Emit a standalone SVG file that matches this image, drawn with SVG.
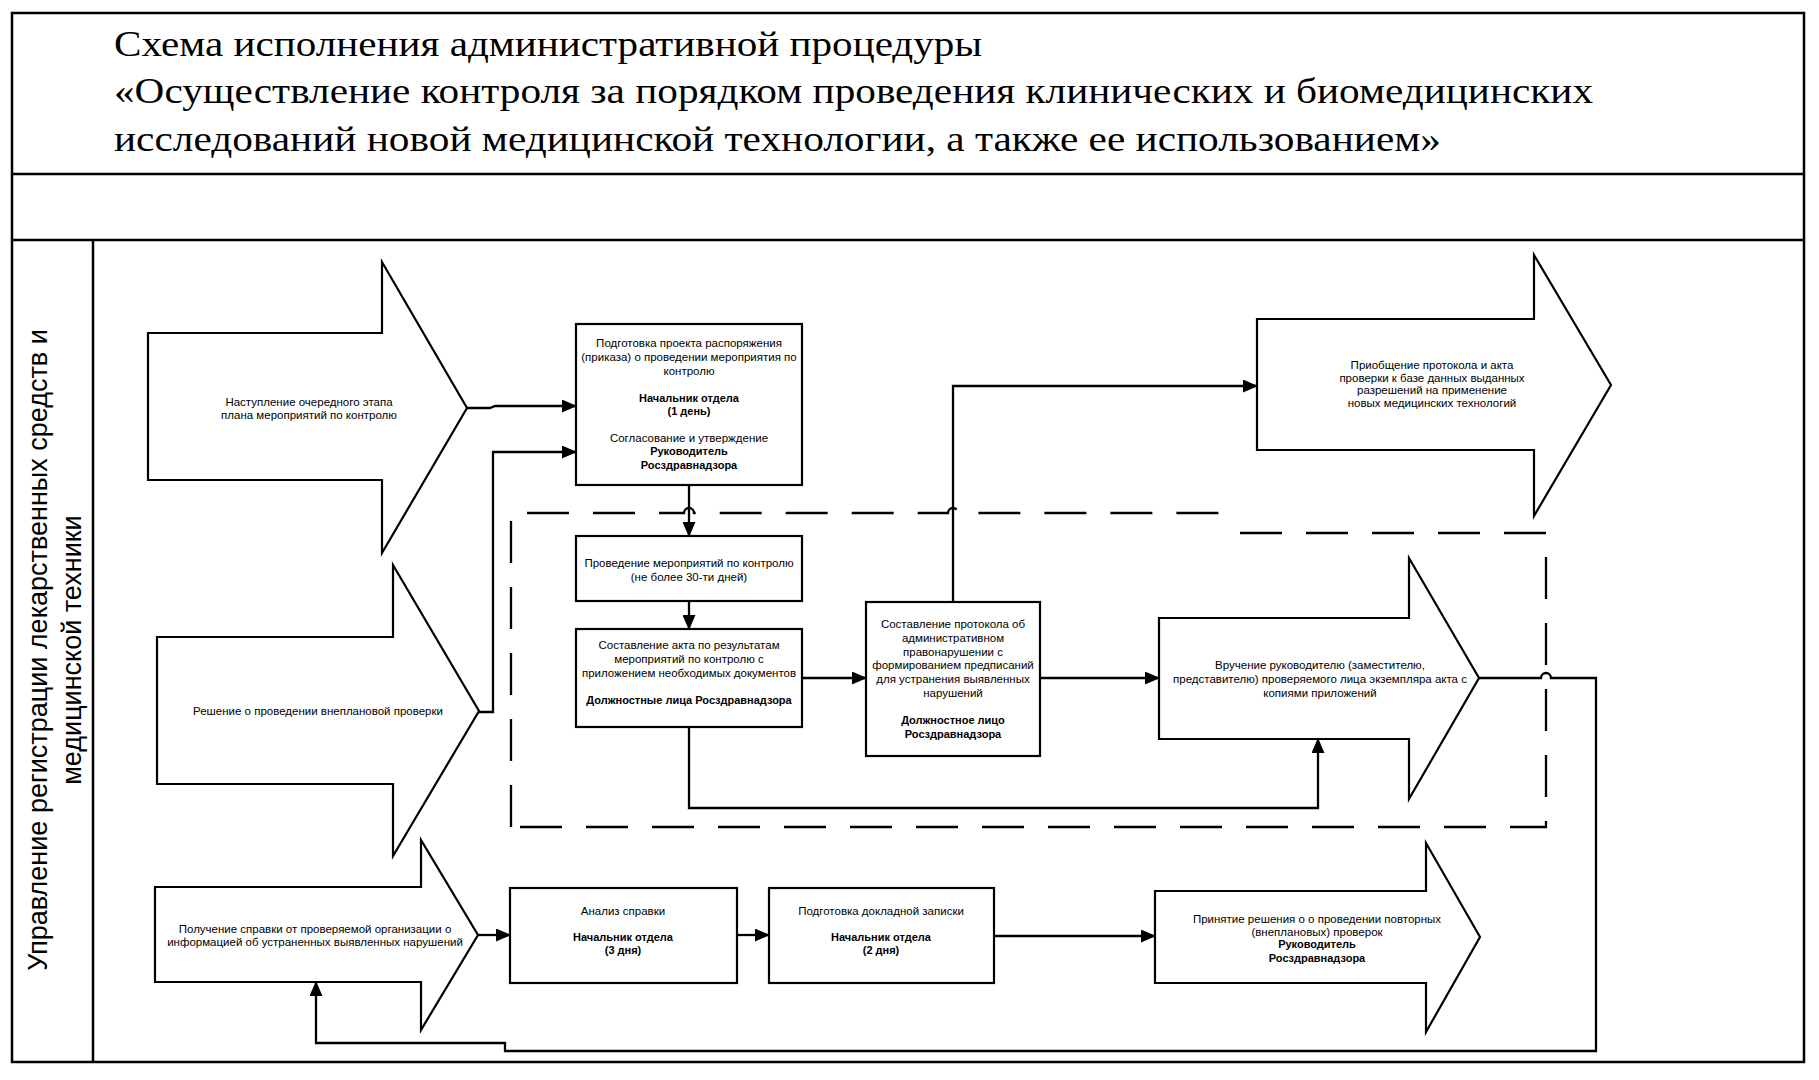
<svg xmlns="http://www.w3.org/2000/svg" width="1819" height="1080" viewBox="0 0 1819 1080">
<style>
.frame{fill:none;stroke:#000;stroke-width:2.5}
.node{fill:#fff;stroke:#000;stroke-width:2.2}
.conn{fill:none;stroke:#000;stroke-width:2.3}
.dash{fill:none;stroke:#000;stroke-width:2.3;stroke-dasharray:42 24}
.t{font-family:"Liberation Sans",Arial,sans-serif;font-size:11.5px;text-anchor:middle;fill:#000}
.b{font-weight:bold;font-size:11px}
.title{font-family:"Liberation Serif","Times New Roman",serif;font-size:36px;fill:#000}
.lane{font-family:"Liberation Sans",Arial,sans-serif;font-size:27px;text-anchor:middle;fill:#000}
</style>
<defs>
<marker id="ah" markerUnits="userSpaceOnUse" markerWidth="15" markerHeight="13" refX="14" refY="6.5" orient="auto">
<path d="M0,0 L15,6.5 L0,13 z" fill="#000"/>
</marker>
</defs>
<rect width="1819" height="1080" fill="#fff"/>
<g id="frame">
<rect class="frame" x="12" y="13" width="1792" height="1049"/>
<line class="frame" x1="12" y1="174" x2="1804" y2="174"/>
<line class="frame" x1="12" y1="240" x2="1804" y2="240"/>
<line class="frame" x1="93" y1="240" x2="93" y2="1062"/>
</g>
<g id="title">
<text class="title" x="114" y="56" textLength="868" lengthAdjust="spacingAndGlyphs">Схема исполнения административной процедуры</text>
<text class="title" x="114" y="103" textLength="1479" lengthAdjust="spacingAndGlyphs">«Осуществление контроля за порядком проведения клинических и биомедицинских</text>
<text class="title" x="114" y="151" textLength="1327" lengthAdjust="spacingAndGlyphs">исследований новой медицинской технологии, а также ее использованием»</text>
</g>
<g id="lane-label">
<text class="lane" transform="translate(47,650) rotate(-90)">Управление регистрации лекарственных средств и</text>
<text class="lane" transform="translate(81,650) rotate(-90)">медицинской техники</text>
</g>
<g id="dashed-area">
<path class="dash" d="M511,827 L511,513 L684,513 A5,5 0 0 1 694,513 L948,513 A5,5 0 0 1 958,513 L1239,513"/>
<path class="dash" d="M1240,533 L1546,533 L1546,827 L511,827"/>
</g>
<g id="connectors">
<path class="conn" d="M467,408 L490,408 L495,406 L576,406" marker-end="url(#ah)"/>
<path class="conn" d="M479,712 L493,712 L493,452 L576,452" marker-end="url(#ah)"/>
<path class="conn" d="M689,485 L689,536" marker-end="url(#ah)"/>
<path class="conn" d="M689,601 L689,629" marker-end="url(#ah)"/>
<path class="conn" d="M802,678 L866,678" marker-end="url(#ah)"/>
<path class="conn" d="M1040,678 L1159,678" marker-end="url(#ah)"/>
<path class="conn" d="M689,727 L689,808 L1318,808 L1318,739" marker-end="url(#ah)"/>
<path class="conn" d="M953,602 L953,386 L1257,386" marker-end="url(#ah)"/>
<path class="conn" d="M1479,678 L1541,678 A5,5 0 0 1 1551,678 L1596,678 L1596,1051 L505,1051 L505,1043 L316,1043 L316,982" marker-end="url(#ah)"/>
<path class="conn" d="M478,935 L510,935" marker-end="url(#ah)"/>
<path class="conn" d="M737,935 L769,935" marker-end="url(#ah)"/>
<path class="conn" d="M994,936 L1155,936" marker-end="url(#ah)"/>
</g>
<g id="n-a1">
<polygon class="node" points="148,333 382,333 382,262 467,408 382,553 382,480 148,480"/>
<text class="t" x="309" y="406">Наступление очередного этапа</text>
<text class="t" x="309" y="419">плана мероприятий по контролю</text>
</g>
<g id="n-a2">
<polygon class="node" points="157,637 393,637 393,565 479,711 393,856 393,784 157,784"/>
<text class="t" x="318" y="715">Решение о проведении внеплановой проверки</text>
</g>
<g id="n-b1">
<rect class="node" x="576" y="324" width="226" height="161"/>
<text class="t" x="689" y="347">Подготовка проекта распоряжения</text>
<text class="t" x="689" y="361">(приказа) о проведении мероприятия по</text>
<text class="t" x="689" y="375">контролю</text>
<text class="t b" x="689" y="402">Начальник отдела</text>
<text class="t b" x="689" y="415">(1 день)</text>
<text class="t" x="689" y="442">Согласование и утверждение</text>
<text class="t b" x="689" y="455">Руководитель</text>
<text class="t b" x="689" y="469">Росздравнадзора</text>
</g>
<g id="n-b2">
<rect class="node" x="576" y="536" width="226" height="65"/>
<text class="t" x="689" y="567">Проведение мероприятий по контролю</text>
<text class="t" x="689" y="581">(не более 30-ти дней)</text>
</g>
<g id="n-b3">
<rect class="node" x="576" y="629" width="226" height="98"/>
<text class="t" x="689" y="649">Составление акта по результатам</text>
<text class="t" x="689" y="663">мероприятий по контролю с</text>
<text class="t" x="689" y="677">приложением необходимых документов</text>
<text class="t b" x="689" y="704">Должностные лица Росздравнадзора</text>
</g>
<g id="n-b4">
<rect class="node" x="866" y="602" width="174" height="154"/>
<text class="t" x="953" y="628">Составление протокола об</text>
<text class="t" x="953" y="642">административном</text>
<text class="t" x="953" y="656">правонарушении с</text>
<text class="t" x="953" y="669">формированием предписаний</text>
<text class="t" x="953" y="683">для устранения выявленных</text>
<text class="t" x="953" y="697">нарушений</text>
<text class="t b" x="953" y="724">Должностное лицо</text>
<text class="t b" x="953" y="738">Росздравнадзора</text>
</g>
<g id="n-a3">
<polygon class="node" points="1257,319 1534,319 1534,255 1611,385 1534,516 1534,450 1257,450"/>
<text class="t" x="1432" y="369">Приобщение протокола и акта</text>
<text class="t" x="1432" y="382">проверки к базе данных выданных</text>
<text class="t" x="1432" y="394">разрешений на применение</text>
<text class="t" x="1432" y="407">новых медицинских технологий</text>
</g>
<g id="n-a4">
<polygon class="node" points="1159,618 1409,618 1409,558 1479,678 1409,799 1409,739 1159,739"/>
<text class="t" x="1320" y="669">Вручение руководителю (заместителю,</text>
<text class="t" x="1320" y="683">представителю) проверяемого лица экземпляра акта с</text>
<text class="t" x="1320" y="697">копиями приложений</text>
</g>
<g id="n-a5">
<polygon class="node" points="155,887 421,887 421,840 478,935 421,1030 421,982 155,982"/>
<text class="t" x="315" y="933">Получение справки от проверяемой организации о</text>
<text class="t" x="315" y="946">информацией об устраненных выявленных нарушений</text>
</g>
<g id="n-c1">
<rect class="node" x="510" y="888" width="227" height="95"/>
<text class="t" x="623" y="915">Анализ справки</text>
<text class="t b" x="623" y="941">Начальник отдела</text>
<text class="t b" x="623" y="954">(3 дня)</text>
</g>
<g id="n-c2">
<rect class="node" x="769" y="888" width="225" height="95"/>
<text class="t" x="881" y="915">Подготовка докладной записки</text>
<text class="t b" x="881" y="941">Начальник отдела</text>
<text class="t b" x="881" y="954">(2 дня)</text>
</g>
<g id="n-a6">
<polygon class="node" points="1155,891 1426,891 1426,843 1480,937 1426,1032 1426,983 1155,983"/>
<text class="t" x="1317" y="923">Принятие решения о о проведении повторных</text>
<text class="t" x="1317" y="936">(внеплановых) проверок</text>
<text class="t b" x="1317" y="948">Руководитель</text>
<text class="t b" x="1317" y="962">Росздравнадзора</text>
</g>
</svg>
